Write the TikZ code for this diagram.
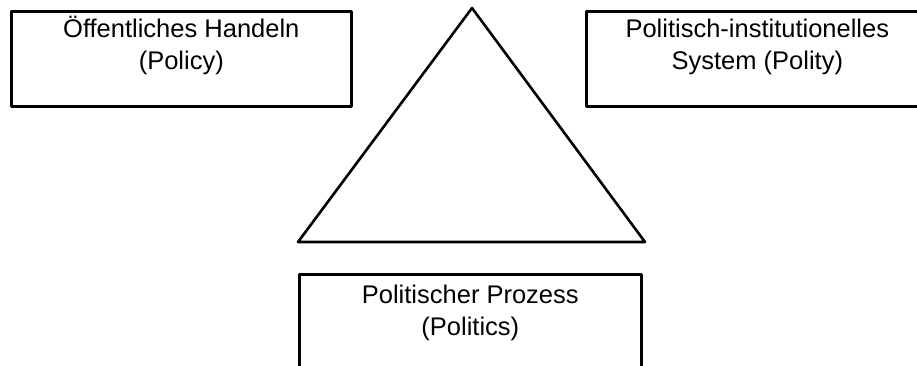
\documentclass[tikz,border=0pt]{standalone}
\usepackage{fontspec}
\setmainfont{Liberation Sans}
\usetikzlibrary{positioning}

\begin{document}
\begin{tikzpicture}[x=1pt, y=-1pt, line width=2.6pt, line join=round,
                        box/.style = {draw, rectangle, inner sep=0pt,
                        anchor=north west},
                        caption/.style = {align=center, inner sep=0pt,
                        font=\fontsize{25.5}{32}\selectfont}]
        \useasboundingbox (0,0) rectangle (917,365);

        \node[box, minimum width=340pt, minimum height=95pt] (policy) at (10,10) {};
        \node[caption] (policytext) [below=3.6pt of policy.north] {\strut Öffentliches Handeln\\(Policy)};

        \node[box, minimum width=342pt, minimum height=95pt] (polity) at (585,10) {};
        \node[caption] (politytext) [below=3.6pt of polity.north] {\strut Politisch-institutionelles\\System (Polity)};

        \node[box, minimum width=342pt, minimum height=115pt] (politics) at (298,273) {};
        \node[caption] (politicstext) [below=6.3pt of politics.north] {\strut Politischer Prozess\\(Politics)};

        \coordinate (apex) at (472,8);
        \coordinate (right) at (645,242);
        \coordinate (left) at (298,242);
        \draw (apex) -- (right) -- (left) -- cycle;
    \end{tikzpicture}
\end{document}
